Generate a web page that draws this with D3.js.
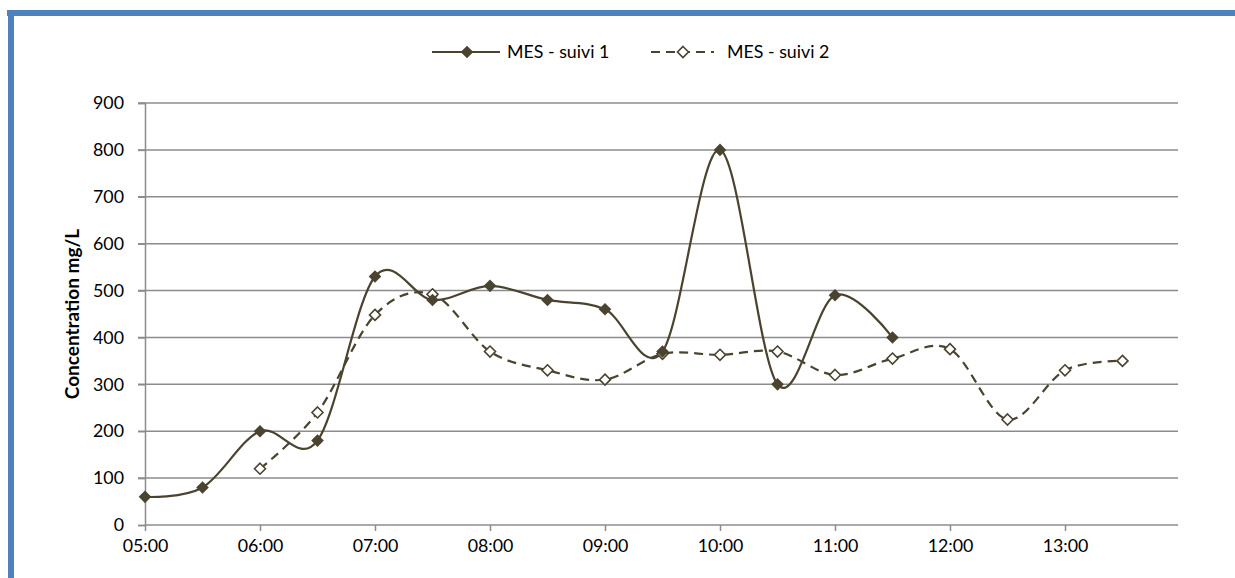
<!DOCTYPE html>
<html><head><meta charset="utf-8">
<script src="https://cdn.jsdelivr.net/npm/d3@7"></script>
<style>
html,body{margin:0;padding:0;background:#fff;}
svg{display:block;font-family:Lato, "Open Sans", sans-serif;}
</style></head>
<body>
<svg id="chart" width="1235" height="578"></svg>
<script>
const times1 = ["05:00","05:30","06:00","06:30","07:00","07:30","08:00","08:30","09:00","09:30","10:00","10:30","11:00","11:30"];
const suivi1 = [60,80,200,180,530,480,510,480,460,370,800,300,490,400];
const times2 = ["06:00","06:30","07:00","07:30","08:00","08:30","09:00","09:30","10:00","10:30","11:00","11:30","12:00","12:30","13:00","13:30"];
const suivi2 = [120,240,448,492,370,330,310,365,363,370,320,355,375,225,330,350];
const xTickLabels = ["05:00","06:00","07:00","08:00","09:00","10:00","11:00","12:00","13:00"];
const yTicks = [0,100,200,300,400,500,600,700,800,900];
const seriesNames = ["MES - suivi 1","MES - suivi 2"];

const toH = s => { const [h,m] = s.split(":").map(Number); return h + m/60; };
const color = "#4a4330";
const grid = "#8c8c8c";
const fs = 17.8;

const svg = d3.select("#chart");
// border
svg.append("rect").attr("x",7).attr("y",10).attr("width",1228).attr("height",6).attr("fill","#4f81bd");
svg.append("rect").attr("x",8).attr("y",10).attr("width",6).attr("height",568).attr("fill","#4f81bd");

const x = d3.scaleLinear().domain([5,14]).range([145,1180]);
const y = d3.scaleLinear().domain([0,900]).range([525,103]);

// gridlines
svg.append("g").selectAll("line").data(yTicks.filter(d=>d>0)).join("line")
  .attr("x1",138).attr("x2",1178).attr("y1",d=>y(d)).attr("y2",d=>y(d))
  .attr("stroke",grid).attr("stroke-width",1.5);

// y axis
const yAxis = svg.append("g").attr("transform","translate(145,0)")
  .call(d3.axisLeft(y).tickValues(yTicks).tickSize(7).tickPadding(14).tickFormat(d3.format("d")));
yAxis.select(".domain").attr("stroke",grid).attr("stroke-width",1.5);
yAxis.selectAll(".tick line").attr("stroke",grid).attr("stroke-width",1.5);
yAxis.selectAll("text").attr("font-size",fs).attr("fill","#000").attr("font-family","Lato, sans-serif");

// x axis
const xAxis = svg.append("g").attr("transform","translate(0,525)")
  .call(d3.axisBottom(x).tickValues(xTickLabels.map(toH)).tickSize(6).tickPadding(8)
    .tickFormat((d,i)=>xTickLabels[i]));
xAxis.select(".domain").attr("d","M145,0H1178").attr("stroke",grid).attr("stroke-width",1.5);
xAxis.selectAll(".tick line").attr("stroke",grid).attr("stroke-width",1.5);
xAxis.selectAll("text").attr("font-size",fs).attr("fill","#000").attr("font-family","Lato, sans-serif");

// y title
svg.append("text").attr("transform","translate(79,314) rotate(-90)")
  .attr("text-anchor","middle").attr("font-weight","bold").attr("font-size",19)
  .text("Concentration mg/L");

const line = d3.line().x(d=>x(d[0])).y(d=>y(d[1])).curve(d3.curveCardinal.tension(0));
const d1 = times1.map((t,i)=>[toH(t),suivi1[i]]);
const d2 = times2.map((t,i)=>[toH(t),suivi2[i]]);

svg.append("path").datum(d2).attr("d",line).attr("fill","none").attr("stroke",color)
  .attr("stroke-width",2.2).attr("stroke-dasharray","9,6");
svg.append("path").datum(d1).attr("d",line).attr("fill","none").attr("stroke",color)
  .attr("stroke-width",2.2);

const diamond = s => `M0,${-s}L${s},0L0,${s}L${-s},0Z`;
svg.append("g").selectAll("path").data(d2).join("path")
  .attr("transform",d=>`translate(${x(d[0])},${y(d[1])})`).attr("d",diamond(5.5))
  .attr("fill","#fff").attr("stroke",color).attr("stroke-width",1.6);
svg.append("g").selectAll("path").data(d1).join("path")
  .attr("transform",d=>`translate(${x(d[0])},${y(d[1])})`).attr("d",diamond(6.3))
  .attr("fill",color);

// legend
const lg = svg.append("g");
lg.append("line").attr("x1",432).attr("x2",500).attr("y1",52).attr("y2",52).attr("stroke",color).attr("stroke-width",2.2);
lg.append("path").attr("transform","translate(467,52)").attr("d",diamond(6.3)).attr("fill",color);
lg.append("text").attr("x",507).attr("y",58).attr("font-size",fs).text(seriesNames[0]);
lg.append("line").attr("x1",651).attr("x2",714).attr("y1",52).attr("y2",52).attr("stroke",color).attr("stroke-width",2.2).attr("stroke-dasharray","9,6");
lg.append("path").attr("transform","translate(683,52)").attr("d",diamond(5.5)).attr("fill","#fff").attr("stroke",color).attr("stroke-width",1.6);
lg.append("text").attr("x",727).attr("y",58).attr("font-size",fs).text(seriesNames[1]);
</script>
</body></html>
